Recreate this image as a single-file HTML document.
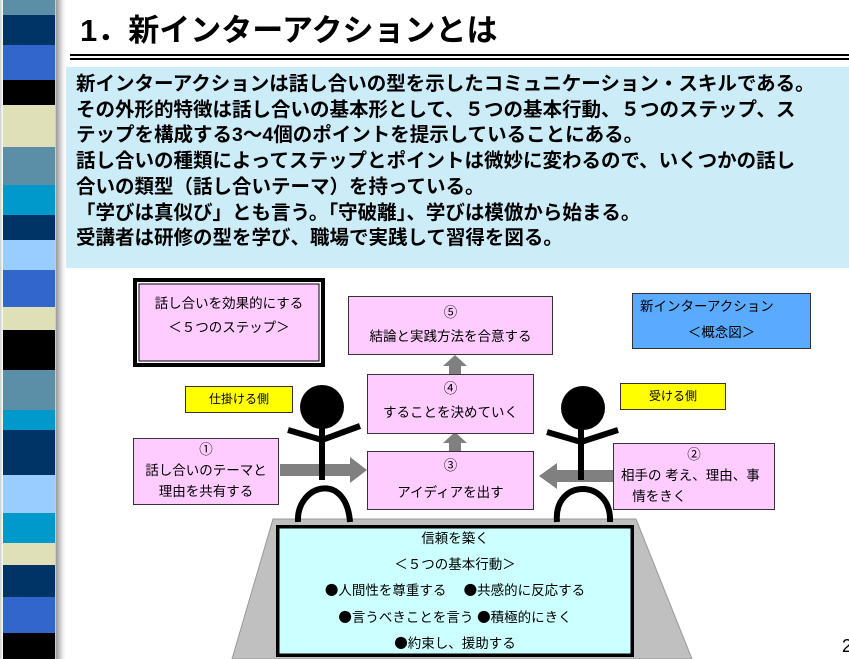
<!DOCTYPE html>
<html><head><meta charset="utf-8"><style>
body{margin:0;width:849px;height:659px;overflow:hidden;background:#fff;position:relative;font-family:"Liberation Sans","Noto Sans CJK JP",sans-serif;}
.a{position:absolute;}
.t{font-size:13.5px;color:#000;text-align:center;line-height:24px;}
.pk{background:#ffccff;border:1px solid #333;box-sizing:border-box;}
.b{font-family:"Noto Sans CJK JP",sans-serif;}
</style></head><body>
<div class="a" style="left:0;top:0;width:66px;height:659px;background:linear-gradient(90deg,#ccc 0,#fff 3px,#fff 55px,#999 56px,#eee 63px,#fff 66px)"></div>
<div class="a" style="left:3px;top:0;width:52px;height:659px;background:linear-gradient(180deg,#5b8fa8 0 15px,#003366 15px 45px,#3366cc 45px 80px,#000 80px 105px,#e0e0b8 105px 147px,#5b8fa8 147px 185px,#0099cc 185px 215px,#003366 215px 240px,#99ccff 240px 270px,#3366cc 270px 307px,#e0e0b8 307px 330px,#000 330px 370px,#5b8fa8 370px 410px,#0099cc 410px 430px,#003366 430px 475px,#99ccff 475px 513px,#0099cc 513px 543px,#e0e0b8 543px 565px,#003366 565px 597px,#3366cc 597px 633px,#000 633px 659px)"></div>
<div class="a" style="left:80px;top:11px;font-size:31px;font-weight:bold;line-height:40px;">1．新インターアクションとは</div>
<div class="a" style="left:70px;top:54px;width:779px;height:2px;background:#000"></div>
<div class="a" style="left:70px;top:58px;width:779px;height:2px;background:#000"></div>
<div class="a" style="left:66px;top:67px;width:783px;height:201px;background:#ccecf8"></div>
<div class="a" style="left:76px;top:72px;width:773px;font-size:19.5px;font-weight:bold;line-height:25.7px;white-space:nowrap;">新インターアクションは話し合いの型を示したコミュニケーション・スキルである。<br>その外形的特徴は話し合いの基本形として、５つの基本行動、５つのステップ、ス<br>テップを構成する3～4個のポイントを提示していることにある。<br>話し合いの種類によってステップとポイントは微妙に変わるので、いくつかの話し<br>合いの類型（話し合いテーマ）を持っている。<br>「学びは真似び」とも言う。「守破離」、学びは模倣から始まる。<br>受講者は研修の型を学び、職場で実践して習得を図る。</div>

<svg class="a" style="left:0;top:0" width="849" height="659">
<polygon points="273,519 636,519 692,659 232,659" fill="#c0c0c0" stroke="#999"/>
<g fill="#808080">
<rect x="280" y="464" width="72" height="12"/><polygon points="350,457 367,470 350,483"/>
<rect x="555" y="470" width="58" height="12"/><polygon points="557,463 539,476 557,489"/>
<rect x="449" y="441" width="12" height="10"/><polygon points="443,443 455,432 467,443"/>
<rect x="449" y="364" width="12" height="10"/><polygon points="443,366 455,355 467,366"/>
</g>
<g stroke="#000" stroke-width="6" fill="none">
<circle cx="322" cy="407" r="22" fill="#000" stroke="none"/>
<line x1="322" y1="428" x2="322" y2="480"/><polyline points="288,430 322,440 360,426"/>
<path d="M298,522 C296,485 346,470 350,522"/>
<circle cx="583" cy="408" r="22" fill="#000" stroke="none"/>
<line x1="581" y1="428" x2="581" y2="480"/><polyline points="547,432 581,442 618,430"/>
<path d="M557,522 C553,478 612,478 610,522"/>
</g>
<rect x="276" y="525" width="358" height="132" fill="#000"/>
<rect x="279" y="528" width="352" height="126" fill="#ccffff" stroke="#000" stroke-width="1"/>
<rect x="133" y="278" width="192" height="89" fill="#000"/>
<rect x="137" y="282" width="184" height="81" fill="#fff"/>
<rect x="139" y="284" width="180" height="77" fill="#ffccff" stroke="#000"/>
</svg>
<div class="a t" style="left:133px;top:292px;width:192px;">話し合いを効果的にする<br>＜５つのステップ＞</div>
<div class="a pk t" style="left:348px;top:296px;width:205px;height:59px;padding-top:4px;">⑤<br>結論と実践方法を合意する</div>
<div class="a t" style="left:632px;top:293px;width:179px;height:56px;background:#5aabff;border:1px solid #333;box-sizing:border-box;line-height:26px;"><div style="text-align:left;padding-left:7px">新インターアクション</div>＜概念図＞</div>
<div class="a t" style="left:185px;top:386px;width:108px;height:27px;background:#ffff00;border:1px solid #333;box-sizing:border-box;font-size:12px;">仕掛ける側</div>
<div class="a t" style="left:620px;top:383px;width:106px;height:27px;background:#ffff00;border:1px solid #333;box-sizing:border-box;font-size:12px;">受ける側</div>
<div class="a pk t" style="left:367px;top:374px;width:167px;height:60px;padding-top:2px;">④<br>することを決めていく</div>
<div class="a pk t" style="left:133px;top:438px;width:146px;height:67px;line-height:21px;">①<br>話し合いのテーマと<br>理由を共有する</div>
<div class="a pk t" style="left:367px;top:451px;width:167px;height:59px;padding-top:0;line-height:27px;">③<br>アイディアを出す</div>
<div class="a pk t" style="left:613px;top:443px;width:162px;height:67px;line-height:21px;">②<br><div style="text-align:left;padding-left:7px">相手の 考え、理由、事<br>&nbsp;&nbsp;&nbsp;情をきく</div></div>
<div class="a t" style="left:279px;top:526px;width:352px;line-height:25.5px;">信頼を築く<br>＜５つの基本行動＞<br><span class="b">●</span>人間性を尊重する　 <span class="b">●</span>共感的に反応する<br><span class="b">●</span>言うべきことを言う <span class="b">●</span>積極的にきく<br><span class="b">●</span>約束し、援助する</div>
<div class="a" style="left:842px;top:636px;font-size:18px;">2</div>
</body></html>
